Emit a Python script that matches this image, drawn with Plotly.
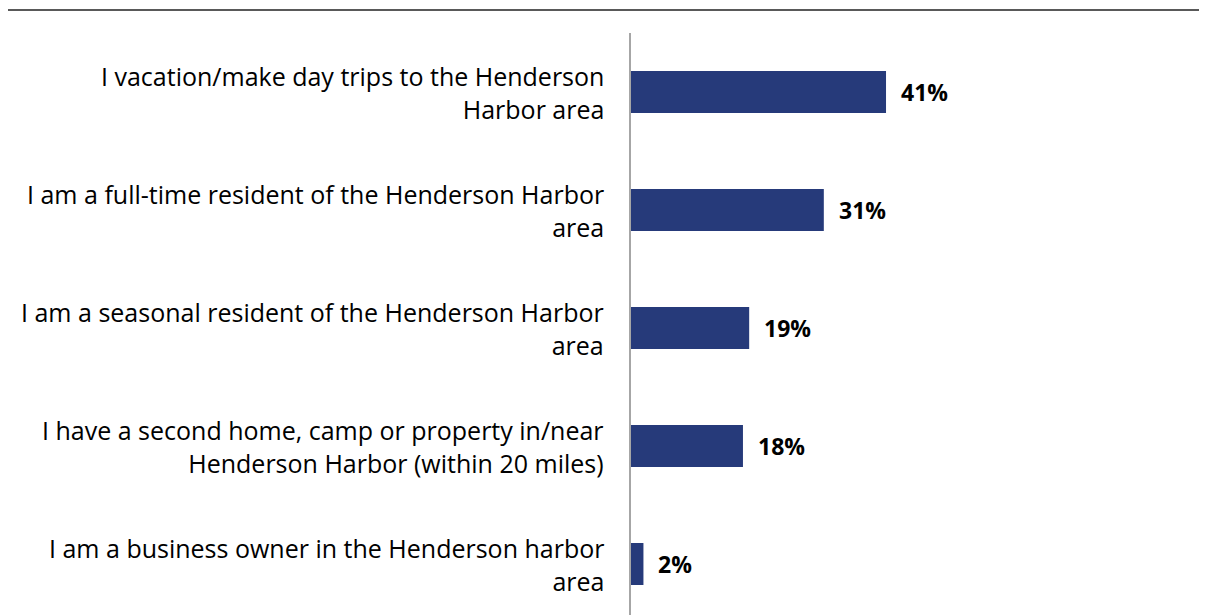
import plotly.graph_objects as go

categories = [
    "I vacation/make day trips to the Henderson<br>Harbor area",
    "I am a full-time resident of the Henderson Harbor<br>area",
    "I am a seasonal resident of the Henderson Harbor<br>area",
    "I have a second home, camp or property in/near<br>Henderson Harbor (within 20 miles)",
    "I am a business owner in the Henderson harbor<br>area",
]
values = [41, 31, 19, 18, 2]
value_labels = ["41%", "31%", "19%", "18%", "2%"]

BAR = "#263A7A"
FONT = "Open Sans"

fig = go.Figure(go.Bar(
    x=values, y=list(range(len(values))), orientation="h",
    marker=dict(color=BAR, line=dict(width=0)),
    hoverinfo="skip",
))

ann = []
for i, (c, v, t) in enumerate(zip(categories, values, value_labels)):
    ann.append(dict(x=0, y=i, xref="paper", yref="y", text=c, showarrow=False,
                    xanchor="right", yanchor="middle", align="right", xshift=-25,
                    font=dict(family=FONT, size=25, color="#000000")))
    ann.append(dict(x=v, y=i, xref="x", yref="y", text="<b>%s</b>" % t, showarrow=False,
                    xanchor="left", yanchor="middle", xshift=13,
                    font=dict(family=FONT, size=23, color="#000000")))

fig.update_layout(
    width=1199, height=607,
    margin=dict(l=623, r=4, t=25, b=0, pad=0),
    paper_bgcolor="white", plot_bgcolor="white",
    bargap=0.644,
    showlegend=False,
    xaxis=dict(range=[0, 91.96], visible=False, fixedrange=True),
    yaxis=dict(range=[4.432, -0.5], showticklabels=False, showgrid=False, zeroline=False,
               showline=True, linecolor="#A6A6A6", linewidth=2, ticks=""),
    annotations=ann,
    shapes=[dict(type="line", xref="paper", yref="paper", x0=-1.092, x1=1.01, y0=1.0395, y1=1.0395,
                 line=dict(color="#595959", width=2))],
)

fig.write_html("out.html")
